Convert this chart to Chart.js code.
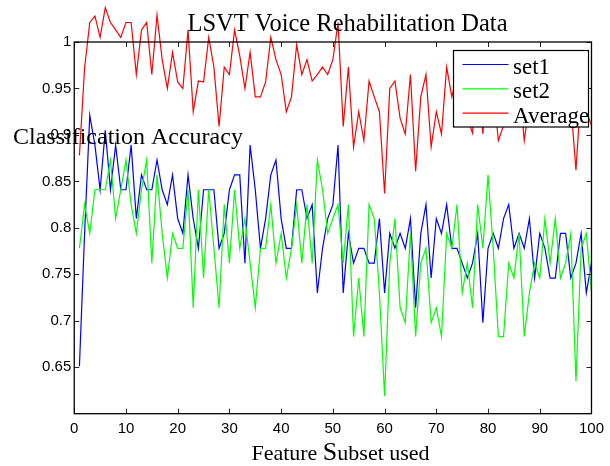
<!DOCTYPE html>
<html><head><meta charset="utf-8">
<script src="https://cdn.jsdelivr.net/npm/chart.js@4/dist/chart.umd.min.js"></script>
<style>html,body{margin:0;padding:0;background:#fff;}#wrap{width:610px;height:466px;position:relative;}</style>
</head><body><div id="wrap"><canvas id="c" width="610" height="466"></canvas></div>
<script>
const featureSubset = [1,2,3,4,5,6,7,8,9,10,11,12,13,14,15,16,17,18,19,20,21,22,23,24,25,26,27,28,29,30,31,32,33,34,35,36,37,38,39,40,41,42,43,44,45,46,47,48,49,50,51,52,53,54,55,56,57,58,59,60,61,62,63,64,65,66,67,68,69,70,71,72,73,74,75,76,77,78,79,80,81,82,83,84,85,86,87,88,89,90,91,92,93,94,95,96,97,98,99,100];
const set1 = [0.651,0.794,0.921,0.889,0.841,0.905,0.841,0.889,0.841,0.841,
              0.889,0.810,0.857,0.841,0.841,0.873,0.841,0.825,0.857,0.810,
              0.794,0.857,0.810,0.778,0.841,0.841,0.841,0.778,0.794,0.841,
              0.857,0.857,0.762,0.889,0.841,0.778,0.810,0.857,0.873,0.810,
              0.778,0.778,0.841,0.841,0.810,0.825,0.730,0.778,0.810,0.825,
              0.889,0.730,0.794,0.762,0.778,0.778,0.762,0.762,0.810,0.730,
              0.794,0.778,0.794,0.778,0.810,0.714,0.794,0.825,0.746,0.810,
              0.794,0.825,0.778,0.778,0.762,0.746,0.762,0.794,0.698,0.778,
              0.794,0.778,0.810,0.825,0.778,0.794,0.778,0.810,0.746,0.794,
              0.778,0.746,0.746,0.794,0.794,0.746,0.762,0.794,0.730,0.762];
const set2 = [0.778,0.825,0.794,0.841,0.841,0.841,0.873,0.810,0.841,0.873,
              0.825,0.794,0.841,0.873,0.762,0.857,0.794,0.746,0.794,0.778,
              0.778,0.841,0.714,0.841,0.746,0.841,0.778,0.714,0.825,0.762,
              0.841,0.778,0.810,0.762,0.714,0.778,0.778,0.825,0.762,0.794,
              0.746,0.778,0.825,0.762,0.825,0.762,0.873,0.841,0.794,0.810,
              0.825,0.762,0.825,0.683,0.746,0.683,0.825,0.810,0.730,0.619,
              0.762,0.810,0.714,0.698,0.794,0.683,0.762,0.778,0.698,0.714,
              0.683,0.794,0.778,0.825,0.730,0.762,0.714,0.825,0.778,0.857,
              0.778,0.683,0.683,0.762,0.746,0.794,0.683,0.730,0.762,0.746,
              0.810,0.762,0.810,0.746,0.762,0.794,0.635,0.778,0.794,0.730];
const average = [0.878,0.972,1.021,1.028,1.005,1.037,1.021,1.013,1.005,1.021,
                 1.021,0.965,1.013,1.021,0.965,1.029,0.981,0.950,0.989,0.957,
                 0.950,1.013,0.925,0.958,0.957,1.005,0.973,0.909,0.973,0.965,
                 1.013,0.985,0.950,0.989,0.941,0.941,0.957,1.005,0.981,0.965,
                 0.925,0.941,0.997,0.965,0.981,0.958,0.965,0.973,0.965,0.981,
                 1.021,0.909,0.973,0.887,0.925,0.894,0.958,0.941,0.925,0.837,
                 0.950,0.958,0.918,0.901,0.965,0.861,0.941,0.965,0.887,0.925,
                 0.901,0.973,0.941,0.965,0.910,0.918,0.902,0.973,0.901,0.981,
                 0.949,0.894,0.910,0.957,0.926,0.957,0.894,0.934,0.918,0.934,
                 0.957,0.918,0.942,0.934,0.941,0.934,0.862,0.949,0.926,0.910];
const seriesNames = ['set1','set2','Average'];
const seriesColors = ['#0000ff','#00ff00','#ff0000'];
const xTicks = [0,10,20,30,40,50,60,70,80,90,100];
const yTicks = [0.65,0.7,0.75,0.8,0.85,0.9,0.95,1];
const titleText = 'LSVT Voice Rehabilitation Data';
const yLabelText = 'Classification Accuracy';
const xLabelParts = ['Feature ', 'S', 'ubset used'];

const SERIF = '"Liberation Serif", "Times New Roman", serif';
const SANS = '"Liberation Sans", Arial, Helvetica, sans-serif';

function pts(vals){ return featureSubset.map((x,i)=>({x:x, y:vals[i]})); }

const framePlugin = {
  id: 'frame',
  afterDatasetsDraw(chart){
    const ctx = chart.ctx, a = chart.chartArea;
    const xs = chart.scales.x, ys = chart.scales.y;
    ctx.save();
    // inward tick marks
    ctx.strokeStyle = '#262626'; ctx.lineWidth = 1;
    ctx.beginPath();
    xTicks.forEach(v=>{
      const px = Math.round(xs.getPixelForValue(v))+0.5;
      ctx.moveTo(px, a.bottom); ctx.lineTo(px, a.bottom-5);
      ctx.moveTo(px, a.top); ctx.lineTo(px, a.top+5);
    });
    yTicks.forEach(v=>{
      const py = Math.round(ys.getPixelForValue(v))+0.5;
      ctx.moveTo(a.left, py); ctx.lineTo(a.left+5, py);
      ctx.moveTo(a.right, py); ctx.lineTo(a.right-5, py);
    });
    ctx.stroke();
    // box
    ctx.strokeStyle = '#000'; ctx.lineWidth = 1.3;
    ctx.strokeRect(a.left, a.top, a.right-a.left, a.bottom-a.top);
    // legend
    const lx = 453.5, ly = 50.5, lw = 135, lh = 76.5;
    ctx.fillStyle = '#fff'; ctx.fillRect(lx, ly, lw, lh);
    ctx.strokeStyle = '#000'; ctx.lineWidth = 1.2;
    ctx.strokeRect(lx, ly, lw, lh);
    ctx.font = '23px ' + SERIF; ctx.textBaseline = 'alphabetic'; ctx.textAlign = 'left';
    chart.data.datasets.forEach((ds, i)=>{
      const ry = 64.5 + i*24.3;
      ctx.beginPath();
      ctx.strokeStyle = seriesColors[i]; ctx.lineWidth = 1.2;
      ctx.moveTo(462.5, ry); ctx.lineTo(508.5, ry);
      ctx.stroke();
      ctx.fillStyle = '#000';
      ctx.fillText(ds.label, 513, ry + 9.5);
    });
    // title
    ctx.fillStyle = '#000';
    ctx.font = '24.5px ' + SERIF; ctx.textAlign = 'center';
    ctx.fillText(titleText, 347.5, 30.5);
    // y label (horizontal)
    ctx.font = '24px ' + SERIF; ctx.textAlign = 'left';
    ctx.fillText(yLabelText, 13, 143.5);
    // x label with larger S
    const sizes = [22, 26, 22];
    let widths = xLabelParts.map((t,i)=>{ ctx.font = sizes[i]+'px '+SERIF; return ctx.measureText(t).width; });
    const total = widths.reduce((p,c)=>p+c,0);
    let x0 = 340.5 - total/2;
    xLabelParts.forEach((t,i)=>{ ctx.font = sizes[i]+'px '+SERIF; ctx.fillText(t, x0, 460); x0 += widths[i]; });
    ctx.restore();
  }
};

new Chart(document.getElementById('c'), {
  type: 'line',
  data: {
    datasets: [
      {label: seriesNames[0], data: pts(set1), borderColor: seriesColors[0], borderWidth: 1.2, pointRadius: 0, tension: 0, clip: false, order: 3},
      {label: seriesNames[1], data: pts(set2), borderColor: seriesColors[1], borderWidth: 1.2, pointRadius: 0, tension: 0, clip: false, order: 2},
      {label: seriesNames[2], data: pts(average), borderColor: seriesColors[2], borderWidth: 1.2, pointRadius: 0, tension: 0, clip: false, order: 1}
    ]
  },
  options: {
    responsive: false, animation: false, devicePixelRatio: 1,
    layout: {padding: {top: 42, right: 15, left: 0, bottom: 0}},
    plugins: {legend: {display: false}, title: {display: false}, tooltip: {enabled: false}},
    events: [],
    scales: {
      x: {
        type: 'linear', min: 0, max: 100,
        afterBuildTicks: s => { s.ticks = xTicks.map(v=>({value: v})); },
        afterFit: s => { s.height = 52.3; },
        grid: {display: false, drawTicks: false}, border: {display: false},
        ticks: {color: '#000', font: {family: SANS, size: 15}, padding: 6, autoSkip: false, maxRotation: 0}
      },
      y: {
        type: 'linear', min: 0.6, max: 1.0,
        afterBuildTicks: s => { s.ticks = yTicks.map(v=>({value: v})); },
        afterFit: s => { s.width = 74.25; },
        grid: {display: false, drawTicks: false}, border: {display: false},
        ticks: {color: '#000', font: {family: SANS, size: 15}, padding: 3, autoSkip: false,
                callback: v => String(parseFloat(Number(v).toFixed(2)))}
      }
    }
  },
  plugins: [framePlugin]
});
</script></body></html>
